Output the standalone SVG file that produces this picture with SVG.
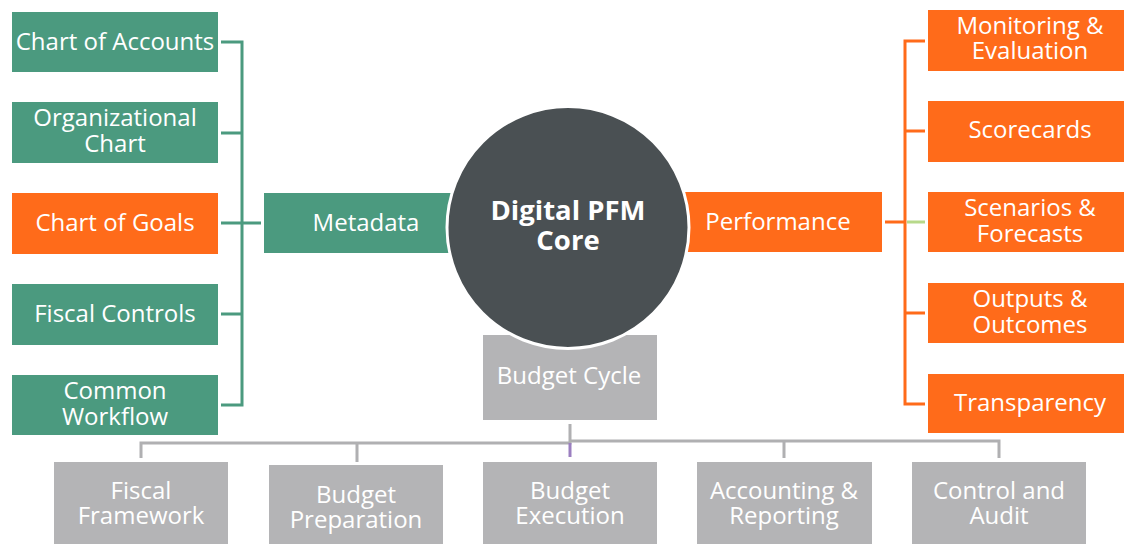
<svg xmlns="http://www.w3.org/2000/svg" width="1124" height="544" viewBox="0 0 1124 544">
<style>
text{font-family:"Open Sans","Noto Sans","Liberation Sans",sans-serif;font-size:24px;fill:#fff;text-anchor:middle}
.g{fill:#4B9A7F}
.o{fill:#FF6B1A}
.y{fill:#B4B4B6}
.lg{stroke:#4B9A7F;stroke-width:3;fill:none}
.lo{stroke:#FF6B1A;stroke-width:3;fill:none}
.ly{stroke:#B0B0B2;stroke-width:3;fill:none}
.core{font-weight:bold;font-size:27.5px}
</style>
<rect width="1124" height="544" fill="#fff"/>
<g id="connectors">
<path class="lg" d="M221 42H242V405H221M221 133H242M221 223H261M221 314H242"/>
<path class="lo" d="M925 41H905V404H925M905 131H925M905 313H925M885 222H905"/>
<path d="M907 222H925" stroke="#B7D98A" stroke-width="3"/>
<path class="ly" d="M570 424V442M141 458V443H570V441H999V458M357 443V462M784 441V458"/>
<path d="M570 443V457" stroke="#9B7FC0" stroke-width="3"/>
</g>
<g id="chart-of-accounts"><rect class="g" x="12" y="12" width="206" height="60"/><text x="115" y="50">Chart of Accounts</text></g>
<g id="organizational-chart"><rect class="g" x="12" y="102" width="206" height="61"/><text x="115" y="126">Organizational</text><text x="115" y="152">Chart</text></g>
<g id="chart-of-goals"><rect class="o" x="12" y="193" width="206" height="61"/><text x="115" y="231">Chart of Goals</text></g>
<g id="fiscal-controls"><rect class="g" x="12" y="284" width="206" height="61"/><text x="115" y="322">Fiscal Controls</text></g>
<g id="common-workflow"><rect class="g" x="12" y="375" width="206" height="60"/><text x="115" y="399">Common</text><text x="115" y="425">Workflow</text></g>
<g id="metadata"><rect class="g" x="264" y="193" width="190" height="60"/><text x="366" y="231">Metadata</text></g>
<g id="performance"><rect class="o" x="684" y="192" width="198" height="60"/><text x="778" y="230">Performance</text></g>
<g id="budget-cycle"><rect class="y" x="483" y="335" width="174" height="85"/><text x="569" y="384">Budget Cycle</text></g>
<g id="core"><circle cx="568" cy="227.5" r="121" fill="#4A5053" stroke="#fff" stroke-width="3"/><text class="core" x="568" y="220">Digital PFM</text><text class="core" x="568" y="250">Core</text></g>
<g id="monitoring"><rect class="o" x="928" y="10" width="196" height="61"/><text x="1030" y="34">Monitoring &amp;</text><text x="1030" y="59">Evaluation</text></g>
<g id="scorecards"><rect class="o" x="928" y="101" width="196" height="61"/><text x="1030" y="138">Scorecards</text></g>
<g id="scenarios"><rect class="o" x="928" y="192" width="196" height="60"/><text x="1030" y="216">Scenarios &amp;</text><text x="1030" y="242">Forecasts</text></g>
<g id="outputs"><rect class="o" x="928" y="283" width="196" height="60"/><text x="1030" y="307">Outputs &amp;</text><text x="1030" y="333">Outcomes</text></g>
<g id="transparency"><rect class="o" x="928" y="374" width="196" height="59"/><text x="1030" y="411">Transparency</text></g>
<g id="fiscal-framework"><rect class="y" x="54" y="462" width="174" height="82"/><text x="141" y="499">Fiscal</text><text x="141" y="524">Framework</text></g>
<g id="budget-preparation"><rect class="y" x="269" y="465" width="174" height="79"/><text x="356" y="503">Budget</text><text x="356" y="528">Preparation</text></g>
<g id="budget-execution"><rect class="y" x="483" y="462" width="174" height="82"/><text x="570" y="499">Budget</text><text x="570" y="524">Execution</text></g>
<g id="accounting-reporting"><rect class="y" x="697" y="462" width="175" height="82"/><text x="784" y="499">Accounting &amp;</text><text x="784" y="524">Reporting</text></g>
<g id="control-audit"><rect class="y" x="912" y="462" width="174" height="82"/><text x="999" y="499">Control and</text><text x="999" y="524">Audit</text></g>
</svg>
